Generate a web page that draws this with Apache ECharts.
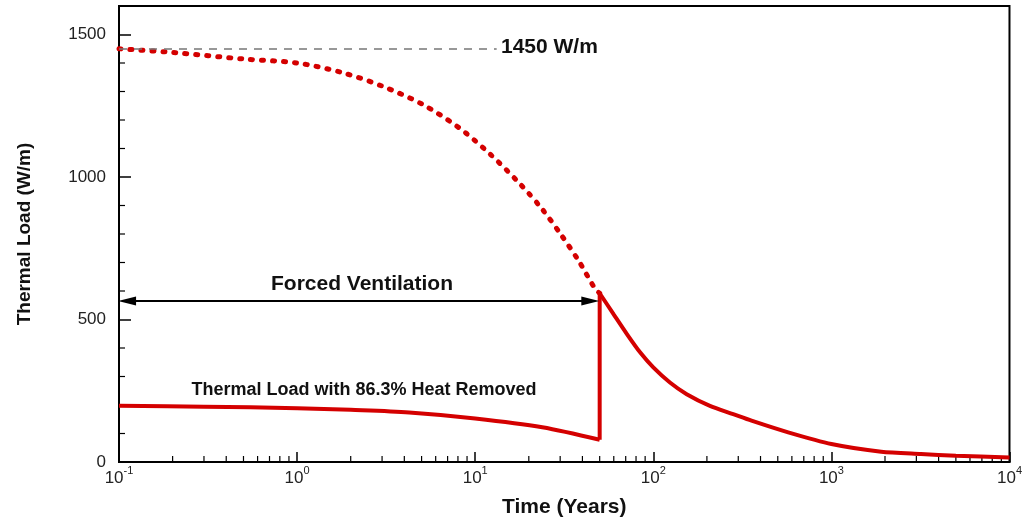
<!DOCTYPE html>
<html>
<head>
<meta charset="utf-8">
<script src="https://cdn.jsdelivr.net/npm/echarts@6/dist/echarts.min.js"></script>
<style>html,body{margin:0;padding:0;background:#fff;}#c{width:1025px;height:523px;}</style>
</head>
<body>
<div id="c"></div>
<script>
// Thermal load without ventilation (dotted)
const fullYears = [0.1, 0.2, 0.5, 1.0, 1.8, 3.0, 5.06, 8.1, 11.9, 17.6, 23.8, 30.7, 38.1, 47.3, 50];
const fullLoad  = [1450, 1437, 1414, 1400, 1366, 1319, 1255, 1173, 1085, 980, 887, 793, 706, 606, 592];
// Thermal load with 86.3% heat removed during forced ventilation
const reducedYears = [0.1, 0.3, 1, 2, 4.26, 10, 23.8, 50];
const reducedLoad  = [197, 194, 189, 183, 174, 153, 122, 78];
// Jump at end of ventilation
const jumpYears = [50, 50];
const jumpLoad  = [78, 592];
// Decay after ventilation ends
const decayYears = [50, 59.8, 71.1, 84.5, 100, 124, 154, 208, 281, 356, 572, 1000, 1905, 3184, 5000, 10000];
const decayLoad  = [592, 519, 449, 384, 332, 279, 238, 197, 168, 145, 104, 63, 36, 28, 22, 16];
// Reference level and ventilation span
const refLevel = 1450;
const refLineEnd = 13.2;
const ventStart = 0.111, ventEnd = 44.3, ventLevel = 565;
// Axis ticks
const yMajorTicks = [0, 500, 1000, 1500];
const yMinorTicks = [100, 200, 300, 400, 600, 700, 800, 900, 1100, 1200, 1300, 1400];
const xMinorTicks = [];
[0.1, 1, 10, 100, 1000].forEach(d => { for (let k = 2; k <= 9; k++) xMinorTicks.push(+(k * d).toPrecision(3)); });

const RED = '#d40000';
const zip = (a, b) => a.map((v, i) => [v, b[i]]);
const chart = echarts.init(document.getElementById('c'));

chart.setOption({
  animation: false,
  backgroundColor: '#fff',
  grid: { left: 119, right: 12, top: 6, bottom: 60, show: true, borderColor: '#000', borderWidth: 2, backgroundColor: 'transparent' },
  xAxis: {
    type: 'log', logBase: 10, min: 0.1, max: 10000,
    name: 'Time (Years)', nameLocation: 'middle', nameGap: 35,
    nameTextStyle: { fontFamily: 'Liberation Sans', fontWeight: 'bold', fontSize: 21, color: '#111' },
    axisLine: { lineStyle: { color: '#000', width: 2 } },
    axisTick: { inside: true, length: 10, lineStyle: { color: '#000', width: 1.5 } },
    splitLine: { show: false },
    axisLabel: {
      margin: 3,
      formatter: v => { const e = Math.round(Math.log10(v)); return '{b|10}{s|' + e + '}'; },
      rich: {
        b: { fontFamily: 'Liberation Sans', fontSize: 17, color: '#222', padding: [4, 0, 0, 0] },
        s: { fontFamily: 'Liberation Sans', fontSize: 11, color: '#222', padding: [0, 0, 12, 0] }
      }
    }
  },
  yAxis: {
    type: 'value', min: 0, max: 1600, interval: 500,
    name: 'Thermal Load (W/m)', nameLocation: 'middle', nameGap: 85,
    nameTextStyle: { fontFamily: 'Liberation Sans', fontWeight: 'bold', fontSize: 19, color: '#111' },
    axisLine: { lineStyle: { color: '#000', width: 2 } },
    axisTick: { inside: true, length: 12, lineStyle: { color: '#000', width: 1.5 } },
    splitLine: { show: false },
    axisLabel: {
      margin: 13, fontFamily: 'Liberation Sans', fontSize: 17, color: '#222',
      formatter: v => (yMajorTicks.indexOf(v) >= 0 ? String(v) : '')
    }
  },
  series: [
    {
      type: 'line', data: zip(fullYears, fullLoad), smooth: 0.3, symbol: 'none',
      lineStyle: { color: RED, width: 5, type: [2, 9], cap: 'round' },
      markLine: {
        silent: true, symbol: 'none', label: { show: false },
        lineStyle: { color: '#777', width: 1.5, type: [8, 7] },
        data: [[{ coord: [0.1, refLevel] }, { coord: [refLineEnd, refLevel] }]]
      }
    },
    {
      type: 'line', data: zip(reducedYears, reducedLoad), smooth: 0.3, symbol: 'none',
      lineStyle: { color: RED, width: 4 },
      markLine: {
        silent: true, symbol: ['triangle', 'triangle'], symbolSize: [9, 18], label: { show: false },
        lineStyle: { color: '#000', width: 2, type: 'solid' }, itemStyle: { color: '#000' },
        data: [[{ coord: [ventStart, ventLevel] }, { coord: [ventEnd, ventLevel] }]]
      }
    },
    { type: 'line', data: zip(jumpYears, jumpLoad), symbol: 'none', lineStyle: { color: RED, width: 4 } },
    { type: 'line', data: zip(decayYears, decayLoad), smooth: 0.25, symbol: 'none', lineStyle: { color: RED, width: 4 } },
    {
      type: 'custom', silent: true, clip: false, data: xMinorTicks.map(v => [v, 0]),
      renderItem: (params, api) => {
        const p = api.coord([api.value(0), api.value(1)]);
        return { type: 'line', shape: { x1: p[0], y1: p[1], x2: p[0], y2: p[1] - 6 }, style: { stroke: '#000', lineWidth: 1.2 } };
      }
    },
    {
      type: 'custom', silent: true, clip: false, data: yMinorTicks.map(v => [0.1, v]),
      renderItem: (params, api) => {
        const p = api.coord([api.value(0), api.value(1)]);
        return { type: 'line', shape: { x1: p[0], y1: p[1], x2: p[0] + 6, y2: p[1] }, style: { stroke: '#000', lineWidth: 1.2 } };
      }
    }
  ],
  graphic: [
    { type: 'text', left: 501, top: 37, style: { text: '1450 W/m', fontFamily: 'Liberation Sans', fontWeight: 'bold', fontSize: 21, fill: '#111' } },
    { type: 'text', x: 362, y: 284, style: { text: 'Forced Ventilation', fontFamily: 'Liberation Sans', fontWeight: 'bold', fontSize: 21, fill: '#111', align: 'center', verticalAlign: 'middle' } },
    { type: 'text', x: 364, y: 390, style: { text: 'Thermal Load with 86.3% Heat Removed', fontFamily: 'Liberation Sans', fontWeight: 'bold', fontSize: 18, fill: '#111', align: 'center', verticalAlign: 'middle' } }
  ]
});
</script>
</body>
</html>
